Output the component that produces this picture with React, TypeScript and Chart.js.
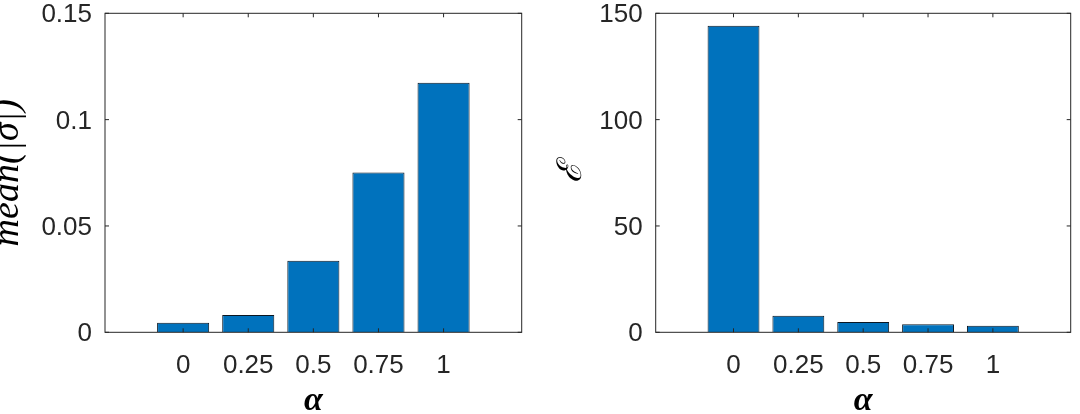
import React, { useEffect, useRef } from "react";
import { Chart, registerables } from "chart.js";

Chart.register(...registerables);

// ---- data ----
const alphaValues = [0, 0.25, 0.5, 0.75, 1];
const alphaTickLabels = ["0", "0.25", "0.5", "0.75", "1"];
const meanSigmaValues = [0.0045, 0.0081, 0.0337, 0.0751, 0.1174];
const energyValues = [144.1, 7.8, 4.8, 3.8, 3.1];
const meanSigmaTicks = [0, 0.05, 0.1, 0.15];
const meanSigmaTickLabels = ["0", "0.05", "0.1", "0.15"];
const energyTicks = [0, 50, 100, 150];
const energyTickLabels = ["0", "50", "100", "150"];
const xLabel = "α";
const meanSigmaLabel = "mean(|σ|)";
const energyLabel = "ℰ";

const AXIS_COLOR = "#262626";
const BAR_COLOR = "#0072BD";
const TICK_FONT = { family: "'Liberation Sans', Arial, sans-serif", size: 26 };

const boxPlugin = {
  id: "matlabBox",
  afterDraw(chart: any) {
    const { ctx, chartArea } = chart;
    const { left, right, top, bottom } = chartArea;
    const xs = chart.scales.x;
    const ys = chart.scales.y;
    const tl = 4;
    ctx.save();
    ctx.strokeStyle = AXIS_COLOR;
    ctx.lineWidth = 1;
    ctx.beginPath();
    for (const t of xs.ticks) {
      const px = xs.getPixelForValue(t.value);
      ctx.moveTo(px, bottom);
      ctx.lineTo(px, bottom - tl);
      ctx.moveTo(px, top);
      ctx.lineTo(px, top + tl);
    }
    for (const t of ys.ticks) {
      const py = ys.getPixelForValue(t.value);
      ctx.moveTo(left, py);
      ctx.lineTo(left + tl, py);
      ctx.moveTo(right, py);
      ctx.lineTo(right - tl, py);
    }
    ctx.stroke();
    ctx.strokeRect(left, top, right - left, bottom - top);
    ctx.restore();
  },
};

type PanelProps = {
  values: number[];
  yTicks: number[];
  yTickLabels: string[];
  yTitle: string;
  yTitleFont: any;
  yTitlePad: number;
  yAxisWidth: number;
  rightPad: number;
};

function Panel(p: PanelProps) {
  const ref = useRef<HTMLCanvasElement>(null);
  useEffect(() => {
    if (!ref.current) return;
    const chart = new Chart(ref.current, {
      type: "bar",
      data: {
        datasets: [
          {
            data: alphaValues.map((a, i) => ({ x: a, y: p.values[i] })),
            backgroundColor: BAR_COLOR,
            borderColor: "#0b1722",
            borderWidth: 1,
            barPercentage: 0.8,
            categoryPercentage: 1,
          },
        ],
      },
      options: {
        animation: false,
        responsive: false,
        devicePixelRatio: 1,
        layout: { padding: { top: 13.3, right: p.rightPad, bottom: 0, left: 0 } },
        plugins: { legend: { display: false }, tooltip: { enabled: false } },
        scales: {
          x: {
            type: "linear",
            min: -0.3,
            max: 1.3,
            offset: false,
            grid: { display: false, drawTicks: false },
            border: { display: false },
            afterBuildTicks: (s: any) => {
              s.ticks = alphaValues.map((v) => ({ value: v }));
            },
            afterFit: (s: any) => {
              s.height = 414 - 332.3;
              s.paddingLeft = 0;
              s.paddingRight = 0;
            },
            ticks: {
              color: AXIS_COLOR,
              font: TICK_FONT,
              padding: 18,
              maxRotation: 0,
              autoSkip: false,
              callback: (_v: any, i: number) => alphaTickLabels[i],
            },
            title: {
              display: true,
              text: xLabel,
              color: "#000",
              font: { family: "'Liberation Serif', 'DejaVu Serif', serif", size: 34, style: "italic", weight: "bold" },
              padding: { top: 0, bottom: -8 },
            },
          },
          y: {
            type: "linear",
            min: p.yTicks[0],
            max: p.yTicks[p.yTicks.length - 1],
            grid: { display: false, drawTicks: false },
            border: { display: false },
            afterBuildTicks: (s: any) => {
              s.ticks = p.yTicks.map((v) => ({ value: v }));
            },
            afterFit: (s: any) => {
              s.width = p.yAxisWidth;
              s.paddingTop = 0;
              s.paddingBottom = 0;
            },
            ticks: {
              color: AXIS_COLOR,
              font: TICK_FONT,
              padding: 13,
              labelOffset: 2,
              callback: (_v: any, i: number) => p.yTickLabels[i],
            },
            title: {
              display: true,
              text: p.yTitle,
              color: "#000",
              font: p.yTitleFont,
              padding: { top: p.yTitlePad, bottom: 0 },
            },
          },
        },
      },
      plugins: [boxPlugin],
    });
    return () => chart.destroy();
  }, []);
  return <canvas ref={ref} width={540} height={414} style={{ display: "block" }} />;
}

export default function App() {
  useEffect(() => {
    document.body.style.margin = "0";
    document.body.style.overflow = "hidden";
  }, []);
  return (
    <div style={{ width: 1080, height: 414, display: "flex", background: "#fff" }}>
      <Panel
        values={meanSigmaValues}
        yTicks={meanSigmaTicks}
        yTickLabels={meanSigmaTickLabels}
        yTitle={meanSigmaLabel}
        yTitleFont={{ family: "'Liberation Serif', 'DejaVu Serif', serif", size: 38, style: "italic" }}
        yTitlePad={-15}
        yAxisWidth={105}
        rightPad={540 - 521.7}
      />
      <Panel
        values={energyValues}
        yTicks={energyTicks}
        yTickLabels={energyTickLabels}
        yTitle={energyLabel}
        yTitleFont={{ family: "'Liberation Serif', 'DejaVu Serif', serif", size: 34, style: "italic" }}
        yTitlePad={12}
        yAxisWidth={115.7}
        rightPad={540 - 530.7}
      />
    </div>
  );
}
